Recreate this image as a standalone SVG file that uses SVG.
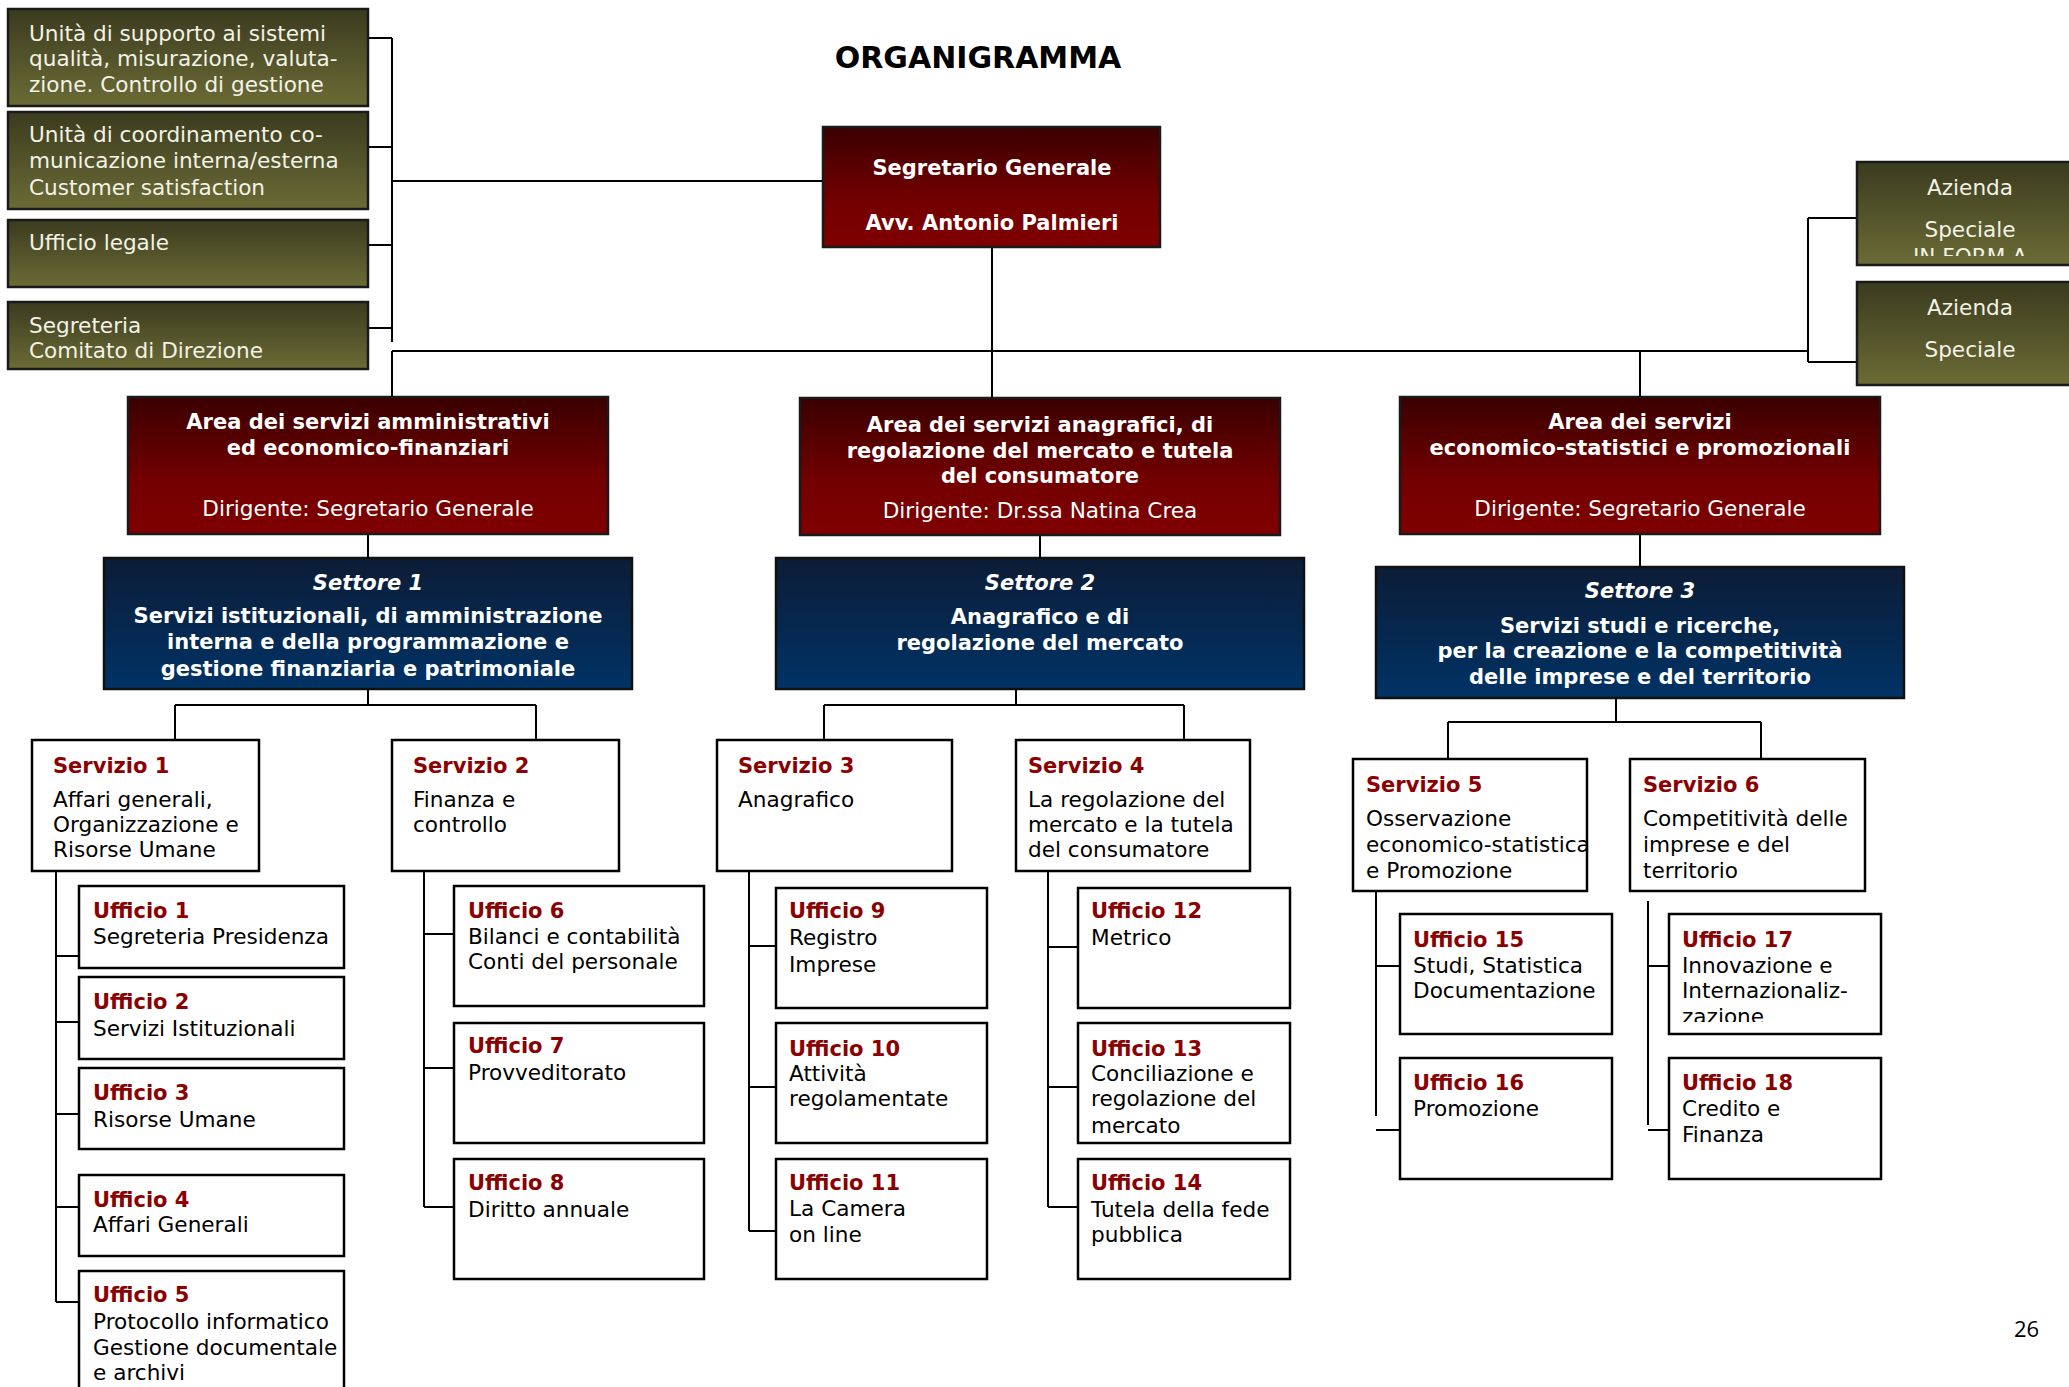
<svg xmlns="http://www.w3.org/2000/svg" width="2069" height="1387" viewBox="0 0 2069 1387">
<defs>
<linearGradient id="gGreen" x1="0" y1="0" x2="0" y2="1"><stop offset="0" stop-color="#3b3b1f"/><stop offset="1" stop-color="#6b6b36"/></linearGradient>
<linearGradient id="gRed" x1="0" y1="0" x2="0" y2="1"><stop offset="0" stop-color="#3a0000"/><stop offset="0.6" stop-color="#720000"/><stop offset="1" stop-color="#800000"/></linearGradient>
<linearGradient id="gBlue" x1="0" y1="0" x2="0" y2="1"><stop offset="0" stop-color="#0c1c36"/><stop offset="1" stop-color="#003366"/></linearGradient>
<clipPath id="clipA"><rect x="1857" y="162" width="230" height="94"/></clipPath>
<clipPath id="clipU17"><rect x="1669" y="914" width="212" height="108"/></clipPath>
<style>
text{font-family:"DejaVu Sans",Verdana,sans-serif;font-size:21.6px}
.g{fill:url(#gGreen);stroke:#1a1a1a;stroke-width:2.5}
.r{fill:url(#gRed);stroke:#1a1a1a;stroke-width:2.5}
.b{fill:url(#gBlue);stroke:#111;stroke-width:2.5}
.w{fill:#fff;stroke:#000;stroke-width:2.5}
.c{fill:none;stroke:#000;stroke-width:2}
.lt{fill:#f2f2e6}
.wt{fill:#fff}
.wb{fill:#fff;font-weight:bold;font-size:21px}
.wbi{fill:#fff;font-weight:bold;font-style:italic;font-size:21px}
.mid{text-anchor:middle}
.h{fill:#8b0000;font-weight:bold;font-size:21px}
.t{fill:#000}
.title{font-size:30px;font-weight:bold;fill:#000;text-anchor:middle}
.pg{font-family:"Open Sans","DejaVu Sans",sans-serif;font-size:22px;fill:#000}
</style>
</defs>
<rect width="2069" height="1387" fill="#fff"/>
<text class="title" x="978" y="68">ORGANIGRAMMA</text>

<g id="connectors">
<path class="c" d="M368,38H392M368,147H392M368,245H392M368,328H392M392,38V342M392,181H823"/>
<path class="c" d="M392,351H1808M392,351V397M992,247V398M1640,351V397M1808,218V362M1808,218H1857M1808,362H1857"/>
<path class="c" d="M368,534V558M1040,535V558M1640,534V567"/>
<path class="c" d="M368,683V705M175,705H536M175,705V740M536,705V740"/>
<path class="c" d="M1016,683V705M824,705H1184M824,705V740M1184,705V740"/>
<path class="c" d="M1616,699V722M1448,722H1761M1448,722V759M1761,722V759"/>
<path class="c" d="M56,867V1302M56,956H79M56,1022H79M56,1114H79M56,1207H79M56,1302H79"/>
<path class="c" d="M424,871V1207M424,934H454M424,1068H454M424,1207H454"/>
<path class="c" d="M749,871V1231M749,946H776M749,1087H776M749,1231H776"/>
<path class="c" d="M1048,868V1207M1048,947H1078M1048,1087H1078M1048,1207H1078"/>
<path class="c" d="M1376,891V1116M1376,966H1400M1376,1130H1400"/>
<path class="c" d="M1648,901V1125M1648,966H1669M1648,1130H1669"/>
</g>

<g id="staff1"><rect class="g" x="8" y="9" width="360" height="97"/>
<text class="lt" x="29" y="41">Unità di supporto ai sistemi</text><text class="lt" x="29" y="66">qualità, misurazione, valuta-</text><text class="lt" x="29" y="92">zione. Controllo di gestione</text></g>
<g id="staff2"><rect class="g" x="8" y="112" width="360" height="97"/>
<text class="lt" x="29" y="142">Unità di coordinamento co-</text><text class="lt" x="29" y="168">municazione interna/esterna</text><text class="lt" x="29" y="195">Customer satisfaction</text></g>
<g id="staff3"><rect class="g" x="8" y="220" width="360" height="67"/>
<text class="lt" x="29" y="250">Ufficio legale</text></g>
<g id="staff4"><rect class="g" x="8" y="302" width="360" height="67"/>
<text class="lt" x="29" y="333">Segreteria</text><text class="lt" x="29" y="358">Comitato di Direzione</text></g>

<g id="segretario"><rect class="r" x="823" y="127" width="337" height="120"/>
<text class="wb mid" x="992" y="175">Segretario Generale</text><text class="wb mid" x="992" y="230">Avv. Antonio Palmieri</text></g>

<g id="azienda1"><rect class="g" x="1857" y="162" width="230" height="103"/>
<text class="lt mid" x="1970" y="195">Azienda</text><text class="lt mid" x="1970" y="237">Speciale</text>
<text class="lt mid" x="1970" y="264" clip-path="url(#clipA)">IN FORM A</text></g>
<g id="azienda2"><rect class="g" x="1857" y="282" width="230" height="103"/>
<text class="lt mid" x="1970" y="315">Azienda</text><text class="lt mid" x="1970" y="357">Speciale</text></g>

<g id="area1"><rect class="r" x="128" y="397" width="480" height="137"/>
<text class="wb mid" x="368" y="429">Area dei servizi amministrativi</text><text class="wb mid" x="368" y="455">ed economico-finanziari</text>
<text class="wt mid" x="368" y="516">Dirigente: Segretario Generale</text></g>
<g id="area2"><rect class="r" x="800" y="398" width="480" height="137"/>
<text class="wb mid" x="1040" y="432">Area dei servizi anagrafici, di</text><text class="wb mid" x="1040" y="458">regolazione del mercato e tutela</text><text class="wb mid" x="1040" y="483">del consumatore</text>
<text class="wt mid" x="1040" y="518">Dirigente: Dr.ssa Natina Crea</text></g>
<g id="area3"><rect class="r" x="1400" y="397" width="480" height="137"/>
<text class="wb mid" x="1640" y="429">Area dei servizi</text><text class="wb mid" x="1640" y="455">economico-statistici e promozionali</text>
<text class="wt mid" x="1640" y="516">Dirigente: Segretario Generale</text></g>

<g id="settore1"><rect class="b" x="104" y="558" width="528" height="131"/>
<text class="wbi mid" x="368" y="590">Settore 1</text>
<text class="wb mid" x="368" y="623">Servizi istituzionali, di amministrazione</text><text class="wb mid" x="368" y="649">interna e della programmazione e</text><text class="wb mid" x="368" y="676">gestione finanziaria e patrimoniale</text></g>
<g id="settore2"><rect class="b" x="776" y="558" width="528" height="131"/>
<text class="wbi mid" x="1040" y="590">Settore 2</text>
<text class="wb mid" x="1040" y="624">Anagrafico e di</text><text class="wb mid" x="1040" y="650">regolazione del mercato</text></g>
<g id="settore3"><rect class="b" x="1376" y="567" width="528" height="131"/>
<text class="wbi mid" x="1640" y="598">Settore 3</text>
<text class="wb mid" x="1640" y="633">Servizi studi e ricerche,</text><text class="wb mid" x="1640" y="658">per la creazione e la competitività</text><text class="wb mid" x="1640" y="684">delle imprese e del territorio</text></g>

<g id="servizio1"><rect class="w" x="32" y="740" width="227" height="131"/>
<text class="h" x="53" y="773">Servizio 1</text><text class="t" x="53" y="807">Affari generali,</text><text class="t" x="53" y="832">Organizzazione e</text><text class="t" x="53" y="857">Risorse Umane</text></g>
<g id="servizio2"><rect class="w" x="392" y="740" width="227" height="131"/>
<text class="h" x="413" y="773">Servizio 2</text><text class="t" x="413" y="807">Finanza e</text><text class="t" x="413" y="832">controllo</text></g>
<g id="servizio3"><rect class="w" x="717" y="740" width="235" height="131"/>
<text class="h" x="738" y="773">Servizio 3</text><text class="t" x="738" y="807">Anagrafico</text></g>
<g id="servizio4"><rect class="w" x="1016" y="740" width="234" height="131"/>
<text class="h" x="1028" y="773">Servizio 4</text><text class="t" x="1028" y="807">La regolazione del</text><text class="t" x="1028" y="832">mercato e la tutela</text><text class="t" x="1028" y="857">del consumatore</text></g>
<g id="servizio5"><rect class="w" x="1353" y="759" width="234" height="132"/>
<text class="h" x="1366" y="792">Servizio 5</text><text class="t" x="1366" y="826">Osservazione</text><text class="t" x="1366" y="852">economico-statistica</text><text class="t" x="1366" y="878">e Promozione</text></g>
<g id="servizio6"><rect class="w" x="1630" y="759" width="235" height="132"/>
<text class="h" x="1643" y="792">Servizio 6</text><text class="t" x="1643" y="826">Competitività delle</text><text class="t" x="1643" y="852">imprese e del</text><text class="t" x="1643" y="878">territorio</text></g>

<g id="ufficio1"><rect class="w" x="79" y="886" width="265" height="82"/>
<text class="h" x="93" y="918">Ufficio 1</text><text class="t" x="93" y="944">Segreteria Presidenza</text></g>
<g id="ufficio2"><rect class="w" x="79" y="977" width="265" height="82"/>
<text class="h" x="93" y="1009">Ufficio 2</text><text class="t" x="93" y="1036">Servizi Istituzionali</text></g>
<g id="ufficio3"><rect class="w" x="79" y="1068" width="265" height="81"/>
<text class="h" x="93" y="1100">Ufficio 3</text><text class="t" x="93" y="1127">Risorse Umane</text></g>
<g id="ufficio4"><rect class="w" x="79" y="1175" width="265" height="81"/>
<text class="h" x="93" y="1207">Ufficio 4</text><text class="t" x="93" y="1232">Affari Generali</text></g>
<g id="ufficio5"><rect class="w" x="79" y="1271" width="265" height="140"/>
<text class="h" x="93" y="1302">Ufficio 5</text><text class="t" x="93" y="1329">Protocollo informatico</text><text class="t" x="93" y="1355">Gestione documentale</text><text class="t" x="93" y="1380">e archivi</text></g>

<g id="ufficio6"><rect class="w" x="454" y="886" width="250" height="120"/>
<text class="h" x="468" y="918">Ufficio 6</text><text class="t" x="468" y="944">Bilanci e contabilità</text><text class="t" x="468" y="969">Conti del personale</text></g>
<g id="ufficio7"><rect class="w" x="454" y="1023" width="250" height="120"/>
<text class="h" x="468" y="1053">Ufficio 7</text><text class="t" x="468" y="1080">Provveditorato</text></g>
<g id="ufficio8"><rect class="w" x="454" y="1159" width="250" height="120"/>
<text class="h" x="468" y="1190">Ufficio 8</text><text class="t" x="468" y="1217">Diritto annuale</text></g>

<g id="ufficio9"><rect class="w" x="776" y="888" width="211" height="120"/>
<text class="h" x="789" y="918">Ufficio 9</text><text class="t" x="789" y="945">Registro</text><text class="t" x="789" y="972">Imprese</text></g>
<g id="ufficio10"><rect class="w" x="776" y="1023" width="211" height="120"/>
<text class="h" x="789" y="1056">Ufficio 10</text><text class="t" x="789" y="1081">Attività</text><text class="t" x="789" y="1106">regolamentate</text></g>
<g id="ufficio11"><rect class="w" x="776" y="1159" width="211" height="120"/>
<text class="h" x="789" y="1190">Ufficio 11</text><text class="t" x="789" y="1216">La Camera</text><text class="t" x="789" y="1242">on line</text></g>

<g id="ufficio12"><rect class="w" x="1078" y="888" width="212" height="120"/>
<text class="h" x="1091" y="918">Ufficio 12</text><text class="t" x="1091" y="945">Metrico</text></g>
<g id="ufficio13"><rect class="w" x="1078" y="1023" width="212" height="120"/>
<text class="h" x="1091" y="1056">Ufficio 13</text><text class="t" x="1091" y="1081">Conciliazione e</text><text class="t" x="1091" y="1106">regolazione del</text><text class="t" x="1091" y="1133">mercato</text></g>
<g id="ufficio14"><rect class="w" x="1078" y="1159" width="212" height="120"/>
<text class="h" x="1091" y="1190">Ufficio 14</text><text class="t" x="1091" y="1217">Tutela della fede</text><text class="t" x="1091" y="1242">pubblica</text></g>

<g id="ufficio15"><rect class="w" x="1400" y="914" width="212" height="120"/>
<text class="h" x="1413" y="947">Ufficio 15</text><text class="t" x="1413" y="973">Studi, Statistica</text><text class="t" x="1413" y="998">Documentazione</text></g>
<g id="ufficio16"><rect class="w" x="1400" y="1058" width="212" height="121"/>
<text class="h" x="1413" y="1090">Ufficio 16</text><text class="t" x="1413" y="1116">Promozione</text></g>
<g id="ufficio17"><rect class="w" x="1669" y="914" width="212" height="120"/>
<text class="h" x="1682" y="947">Ufficio 17</text><text class="t" x="1682" y="973">Innovazione e</text><text class="t" x="1682" y="998">Internazionaliz-</text>
<text class="t" x="1682" y="1024" clip-path="url(#clipU17)">zazione</text></g>
<g id="ufficio18"><rect class="w" x="1669" y="1058" width="212" height="121"/>
<text class="h" x="1682" y="1090">Ufficio 18</text><text class="t" x="1682" y="1116">Credito e</text><text class="t" x="1682" y="1142">Finanza</text></g>

<text class="pg" x="2014" y="1337">26</text>
</svg>
